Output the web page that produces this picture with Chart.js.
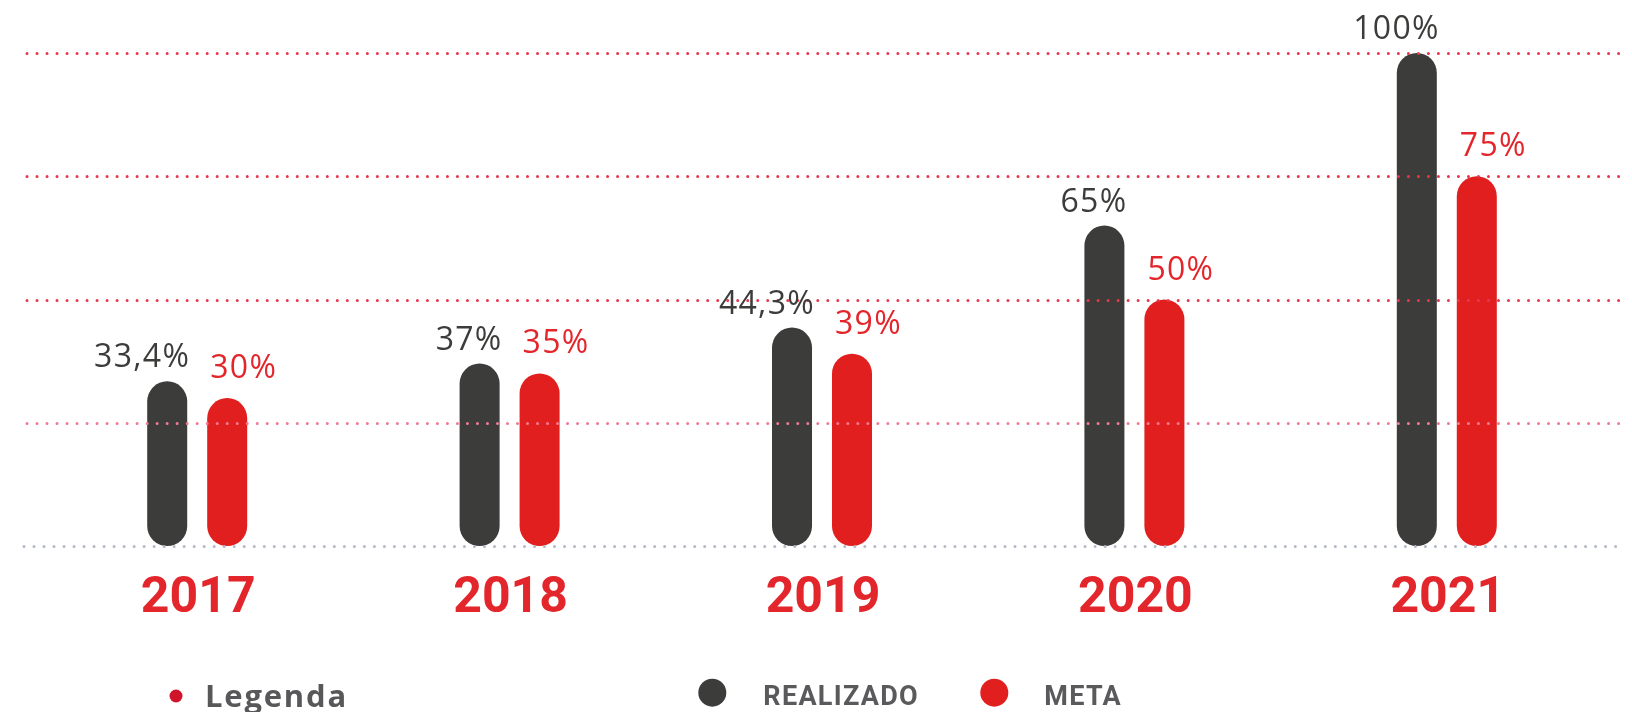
<!DOCTYPE html>
<html><head><meta charset="utf-8">
<script src="https://cdn.jsdelivr.net/npm/chart.js@4.4.0/dist/chart.umd.min.js"></script>
<style>html,body{margin:0;padding:0;background:#fff;overflow:hidden;} #wrap{width:1632px;height:712px;position:relative;}</style>
</head><body><div id="wrap"><canvas id="c" width="1632" height="712"></canvas></div>
<script>
const categories = ['2017', '2018', '2019', '2020', '2021'];
const realizado = [33.4, 37, 44.3, 65, 100];
const meta = [30, 35, 39, 50, 75];
const yTicks = [0, 25, 50, 75, 100];
const gridColors = ['#b4b8c8', '#f07a93', '#e8384e', '#e8364c', '#e8364c'];
const seriesNames = ['REALIZADO', 'META'];
const seriesColors = ['#3c3c3b', '#e21f1f'];
const labelColors = ['#3c3c3b', '#e3262b'];

const fmt = v => String(v).replace('.', ',') + '%';

const gridPlugin = {
  id: 'grid',
  afterDatasetsDraw(chart) {
    const ctx = chart.ctx, y = chart.scales.y;
    ctx.save();
    yTicks.forEach((t, i) => {
      const py = Math.round(y.getPixelForValue(t)) + 0.5;
      ctx.strokeStyle = gridColors[i];
      ctx.lineWidth = 3;
      ctx.lineCap = 'round';
      ctx.setLineDash([0.01, 10]);
      ctx.beginPath();
      ctx.moveTo(t === 0 ? 24 : 27, py);
      ctx.lineTo(1620, py);
      ctx.stroke();
    });
    ctx.restore();
  }
};

const labelPlugin = {
  id: 'vlabels',
  afterDatasetsDraw(chart) {
    const ctx = chart.ctx;
    ctx.save();
    ctx.font = '400 32px "Open Sans", sans-serif';
    ctx.letterSpacing = '1.3px';
    ctx.textBaseline = 'alphabetic';
    chart.data.datasets.forEach((ds, di) => {
      const m = chart.getDatasetMeta(di);
      m.data.forEach((bar, i) => {
        ctx.fillStyle = labelColors[di];
        if (di === 0) {
          ctx.textAlign = 'right';
          ctx.fillText(fmt(ds.data[i]), bar.x + bar.width / 2 + 3, bar.y - 14);
        } else {
          ctx.textAlign = 'left';
          ctx.fillText(fmt(ds.data[i]), bar.x - bar.width / 2 + 3, bar.y - 20);
        }
      });
    });
    // year labels
    const x = chart.scales.x;
    ctx.letterSpacing = '0px';
    ctx.font = '700 50px Roboto, sans-serif';
    ctx.fillStyle = '#e3262b';
    ctx.textAlign = 'center';
    categories.forEach((c, i) => {
      ctx.fillText(c, x.getPixelForValue(i) + 1, chart.chartArea.bottom + 65.5);
    });
    ctx.restore();
  }
};

const legendPlugin = {
  id: 'legendx',
  afterDraw(chart) {
    const ctx = chart.ctx;
    ctx.save();
    ctx.fillStyle = '#d0142a';
    ctx.beginPath(); ctx.arc(176, 696, 6.5, 0, Math.PI * 2); ctx.fill();
    ctx.fillStyle = '#58585a';
    ctx.font = '700 31px "Open Sans", sans-serif';
    ctx.letterSpacing = '1.8px';
    ctx.textAlign = 'left';
    ctx.textBaseline = 'alphabetic';
    ctx.fillText('Legenda', 205, 706.5);
    const cx = [712.3, 994.3], tx = [763.3, 1044.3];
    chart.data.datasets.forEach((ds, i) => {
      ctx.fillStyle = ds.backgroundColor;
      ctx.beginPath(); ctx.arc(cx[i], 692.7, 14, 0, Math.PI * 2); ctx.fill();
      ctx.fillStyle = '#5a5a5c';
      ctx.font = '700 27px Roboto, sans-serif';
      ctx.letterSpacing = '1.3px';
      ctx.fillText(ds.label, tx[i], 705);
    });
    ctx.restore();
  }
};

new Chart(document.getElementById('c'), {
  type: 'bar',
  data: {
    labels: categories,
    datasets: [
      { label: seriesNames[0], data: realizado, backgroundColor: seriesColors[0], borderRadius: 20, borderSkipped: false, categoryPercentage: 0.384, barPercentage: 0.667 },
      { label: seriesNames[1], data: meta, backgroundColor: seriesColors[1], borderRadius: 20, borderSkipped: false, categoryPercentage: 0.384, barPercentage: 0.667 }
    ]
  },
  options: {
    responsive: false,
    animation: false,
    layout: { padding: { left: 41, right: 29, top: 53, bottom: 166 } },
    plugins: { legend: { display: false }, tooltip: { enabled: false } },
    scales: {
      x: { display: false },
      y: { display: false, min: 0, max: 100 }
    }
  },
  plugins: [gridPlugin, labelPlugin, legendPlugin]
});
</script></body></html>
